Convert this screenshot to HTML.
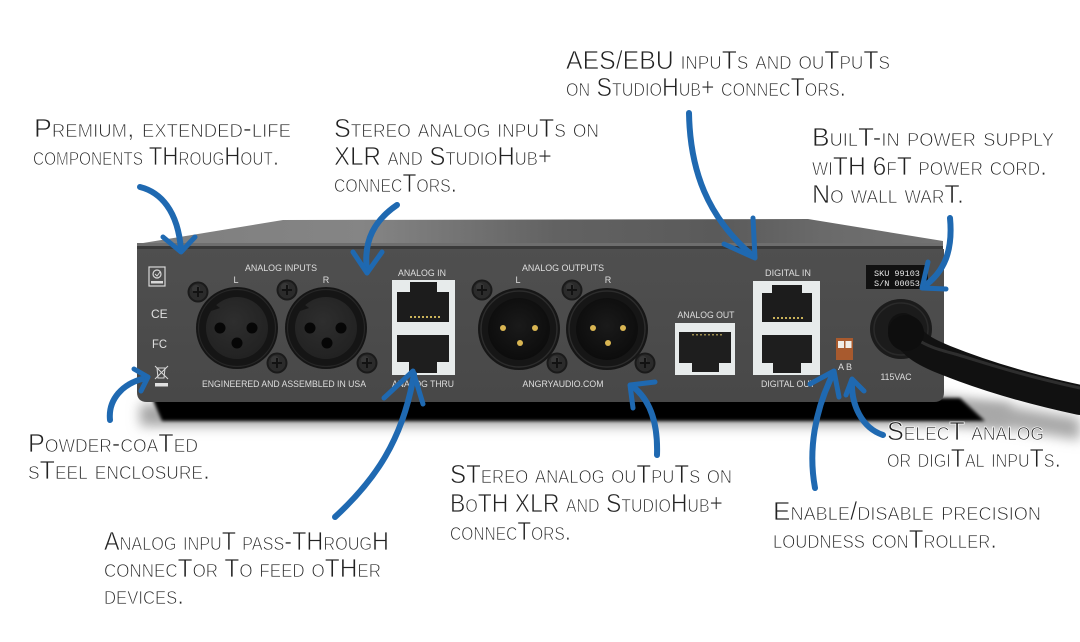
<!DOCTYPE html>
<html>
<head>
<meta charset="utf-8">
<style>
  html,body{margin:0;padding:0;background:#fff;}
  svg{display:block;}
  .note{font-family:"Liberation Sans","DejaVu Sans",sans-serif;font-size:26px;font-variant:small-caps;fill:#222;stroke:#fff;stroke-width:0.7px;paint-order:normal;}
  .lbl{font-family:"Liberation Sans","DejaVu Sans",sans-serif;font-size:9px;fill:#dedede;}
  .mono{font-family:"Liberation Mono","DejaVu Sans Mono",monospace;font-size:8.5px;fill:#e6e6e6;}
  .arr{fill:none;stroke:#1f69b1;stroke-width:6;stroke-linecap:round;stroke-linejoin:round;}
  .arrh{fill:none;stroke:#1f69b1;stroke-width:5;stroke-linecap:round;stroke-linejoin:round;}
</style>
</head>
<body>
<svg width="1080" height="642" viewBox="0 0 1080 642" xmlns="http://www.w3.org/2000/svg">
<defs>
  <linearGradient id="topg" x1="137" y1="0" x2="943" y2="0" gradientUnits="userSpaceOnUse">
    <stop offset="0" stop-color="#7e7e7e"/>
    <stop offset="0.28" stop-color="#858585"/>
    <stop offset="0.52" stop-color="#626262"/>
    <stop offset="0.72" stop-color="#5a5a5a"/>
    <stop offset="0.85" stop-color="#6a6a6a"/>
    <stop offset="1" stop-color="#727272"/>
  </linearGradient>
  <linearGradient id="panelg" x1="0" y1="247" x2="0" y2="402" gradientUnits="userSpaceOnUse">
    <stop offset="0" stop-color="#4f4f4f"/>
    <stop offset="1" stop-color="#484848"/>
  </linearGradient>
  <radialGradient id="fface" cx="0.45" cy="0.4" r="0.6">
    <stop offset="0" stop-color="#2e2e2e"/>
    <stop offset="1" stop-color="#222"/>
  </radialGradient>
  <radialGradient id="mface" cx="0.5" cy="0.45" r="0.6">
    <stop offset="0" stop-color="#1a1a1a"/>
    <stop offset="1" stop-color="#0b0b0b"/>
  </radialGradient>
  <filter id="b6" x="-20%" y="-200%" width="140%" height="500%"><feGaussianBlur stdDeviation="6"/></filter>
  <filter id="b2" x="-10%" y="-100%" width="120%" height="300%"><feGaussianBlur stdDeviation="1.6"/></filter>
  <g id="screw">
    <circle r="10.5" fill="#1a1a1a"/>
    <circle r="8.5" fill="#2b2b2b"/>
    <circle cx="-2" cy="-3" r="4" fill="#3d3d3d" opacity="0.7"/>
    <path d="M-5,0 H5 M0,-5 V5" stroke="#121212" stroke-width="2"/>
  </g>
</defs>

<rect width="1080" height="642" fill="#fff"/>

<!-- soft shadows -->
<rect x="140" y="404" width="870" height="22" fill="#a4a4a4" filter="url(#b6)"/>
<path d="M935,395 C980,400 1030,410 1080,418 L1080,440 C1030,432 980,424 935,418 Z" fill="#a8a8a8" filter="url(#b6)"/>
<!-- black base band -->
<path d="M152,398 L960,398 L985,421 L162,421 Z" fill="#060606" filter="url(#b2)"/>

<!-- top plate -->
<path d="M137,244 L283,220 L808,219 L943,241 L943,247 L137,248 Z" fill="url(#topg)"/>
<rect x="137" y="243" width="806" height="3" fill="#6e6e6e"/>
<rect x="137" y="246" width="806" height="3" fill="#3a3a3a"/>

<!-- front panel -->
<path d="M137,249 L944,249 L944,392 Q944,402 934,402 L147,402 Q137,402 137,392 Z" fill="url(#panelg)"/>

<!-- left icons -->
<rect x="149" y="267" width="16" height="19" fill="none" stroke="#d8d8d8" stroke-width="1.2"/>
<circle cx="157" cy="274" r="4" fill="none" stroke="#d8d8d8" stroke-width="1.2"/>
<path d="M155,274 l2,2 l3,-4" fill="none" stroke="#d8d8d8" stroke-width="1"/>
<rect x="151" y="281" width="12" height="2.5" fill="#d8d8d8"/>
<text x="151" y="318" font-family="Liberation Sans,sans-serif" font-size="12" fill="#e0e0e0">CE</text>
<text x="152" y="348" font-family="Liberation Sans,sans-serif" font-size="12" fill="#e0e0e0" textLength="15" lengthAdjust="spacingAndGlyphs">FC</text>
<g stroke="#d8d8d8" stroke-width="1" fill="none">
  <path d="M157,368 h8 l-1,10 h-6 z"/>
  <path d="M155,366 l13,13 M168,366 l-13,13"/>
</g>
<rect x="155" y="383" width="13" height="3.5" fill="#e0e0e0"/>

<!-- ANALOG INPUTS section -->
<text class="lbl" x="281" y="271" text-anchor="middle" textLength="72" lengthAdjust="spacingAndGlyphs">ANALOG INPUTS</text>
<text class="lbl" x="236" y="283" text-anchor="middle">L</text>
<text class="lbl" x="326" y="283" text-anchor="middle">R</text>

<g transform="translate(237,328)">
  <circle r="41" fill="#151515"/>
  <circle r="38.5" fill="none" stroke="#262626" stroke-width="1.2"/>
  <circle r="31" fill="url(#fface)"/>
  <path d="M-26,-17 l5,-6 l4,3 z" fill="#151515"/>
  <circle cx="-17" cy="0" r="5.5" fill="#060606"/>
  <circle cx="15" cy="0" r="5.5" fill="#060606"/>
  <circle cx="0" cy="15" r="5.5" fill="#060606"/>
</g>
<g transform="translate(326,328)">
  <circle r="41" fill="#151515"/>
  <circle r="38.5" fill="none" stroke="#262626" stroke-width="1.2"/>
  <circle r="31" fill="url(#fface)"/>
  <path d="M-26,-17 l5,-6 l4,3 z" fill="#151515"/>
  <circle cx="-16" cy="0" r="5.5" fill="#060606"/>
  <circle cx="15" cy="0" r="5.5" fill="#060606"/>
  <circle cx="1" cy="15" r="5.5" fill="#060606"/>
</g>
<use href="#screw" x="198" y="292"/>
<use href="#screw" x="277" y="363"/>
<use href="#screw" x="287" y="290"/>
<use href="#screw" x="367" y="363"/>
<text class="lbl" x="284" y="387" text-anchor="middle" textLength="164" lengthAdjust="spacingAndGlyphs">ENGINEERED AND ASSEMBLED IN USA</text>

<!-- ANALOG IN / THRU jacks -->
<text class="lbl" x="422" y="276" text-anchor="middle" textLength="48" lengthAdjust="spacingAndGlyphs">ANALOG IN</text>
<rect x="392" y="280" width="63" height="95" fill="#e7ebeb"/>
<path d="M397,292 H410 V282 H437 V292 H449 V322 H397 Z" fill="#1c1c1c"/>
<g fill="#c9b25a"><rect x="410" y="316" width="2" height="2"/><rect x="414" y="316" width="2" height="2"/><rect x="418" y="316" width="2" height="2"/><rect x="422" y="316" width="2" height="2"/><rect x="426" y="316" width="2" height="2"/><rect x="430" y="316" width="2" height="2"/><rect x="434" y="316" width="2" height="2"/><rect x="438" y="316" width="2" height="2"/></g>
<path d="M397,335 H449 V362 H437 V373 H409 V362 H397 Z" fill="#1e1e1e"/>
<text class="lbl" x="423" y="387" text-anchor="middle" textLength="62" lengthAdjust="spacingAndGlyphs">ANALOG THRU</text>

<!-- ANALOG OUTPUTS -->
<text class="lbl" x="563" y="271" text-anchor="middle" textLength="82" lengthAdjust="spacingAndGlyphs">ANALOG OUTPUTS</text>
<text class="lbl" x="518" y="283" text-anchor="middle">L</text>
<text class="lbl" x="608" y="283" text-anchor="middle">R</text>
<g transform="translate(519,329)">
  <circle r="41" fill="#161616"/>
  <circle r="38" fill="none" stroke="#2c2c2c" stroke-width="1.5"/>
  <circle r="31" fill="url(#mface)"/>
  <circle cx="-16" cy="-1" r="3" fill="#d9b552"/>
  <circle cx="16" cy="-1" r="3" fill="#d9b552"/>
  <circle cx="1" cy="14" r="3" fill="#d9b552"/>
</g>
<g transform="translate(607,329)">
  <circle r="41" fill="#161616"/>
  <circle r="38" fill="none" stroke="#2c2c2c" stroke-width="1.5"/>
  <circle r="31" fill="url(#mface)"/>
  <circle cx="-14" cy="-1" r="3" fill="#d9b552"/>
  <circle cx="16" cy="-1" r="3" fill="#d9b552"/>
  <circle cx="1" cy="14" r="3" fill="#d9b552"/>
</g>
<use href="#screw" x="482" y="290"/>
<use href="#screw" x="557" y="363"/>
<use href="#screw" x="572" y="290"/>
<use href="#screw" x="645" y="363"/>
<text class="lbl" x="563" y="387" text-anchor="middle" textLength="81" lengthAdjust="spacingAndGlyphs">ANGRYAUDIO.COM</text>

<!-- ANALOG OUT jack -->
<text class="lbl" x="706" y="318" text-anchor="middle" textLength="57" lengthAdjust="spacingAndGlyphs">ANALOG OUT</text>
<rect x="675" y="323" width="60" height="52" fill="#e7ebeb"/>
<path d="M679,332 H731 V363 H719 V372 H692 V363 H679 Z" fill="#1e1e1e"/>
<g fill="#9c8c4e"><rect x="692" y="334" width="2" height="1.5"/><rect x="696" y="334" width="2" height="1.5"/><rect x="700" y="334" width="2" height="1.5"/><rect x="704" y="334" width="2" height="1.5"/><rect x="708" y="334" width="2" height="1.5"/><rect x="712" y="334" width="2" height="1.5"/><rect x="716" y="334" width="2" height="1.5"/><rect x="720" y="334" width="2" height="1.5"/></g>

<!-- DIGITAL IN/OUT jacks -->
<text class="lbl" x="788" y="276" text-anchor="middle" textLength="46" lengthAdjust="spacingAndGlyphs">DIGITAL IN</text>
<rect x="753" y="281" width="67" height="94" fill="#e7ebeb"/>
<path d="M762,293 H772 V285 H802 V293 H812 V322 H762 Z" fill="#1c1c1c"/>
<g fill="#c9b25a"><rect x="773" y="317" width="2" height="2"/><rect x="777" y="317" width="2" height="2"/><rect x="781" y="317" width="2" height="2"/><rect x="785" y="317" width="2" height="2"/><rect x="789" y="317" width="2" height="2"/><rect x="793" y="317" width="2" height="2"/><rect x="797" y="317" width="2" height="2"/><rect x="801" y="317" width="2" height="2"/></g>
<path d="M762,335 H812 V363 H801 V373 H773 V363 H762 Z" fill="#1e1e1e"/>
<text class="lbl" x="788" y="387" text-anchor="middle" textLength="54" lengthAdjust="spacingAndGlyphs">DIGITAL OUT</text>

<!-- DIP switch -->
<rect x="836" y="338" width="17" height="22" fill="#a85a2e"/>
<rect x="838" y="341" width="6" height="7" fill="#f0ece6"/>
<rect x="845.5" y="341" width="6" height="7" fill="#f0ece6"/>
<text class="lbl" x="845" y="370" text-anchor="middle" font-size="8.5">A B</text>

<!-- SKU label -->
<rect x="866" y="265" width="62" height="24" fill="#111"/>
<text class="mono" x="874" y="276">SKU 99103</text>
<text class="mono" x="874" y="286">S/N 00053</text>

<!-- power grommet + cable -->
<ellipse cx="901" cy="329" rx="31" ry="30" fill="#1b1b1b"/>
<ellipse cx="901" cy="329" rx="27" ry="26" fill="none" stroke="#2a2a2a" stroke-width="1.5"/>
<path d="M903,328 C912,345 925,352 945,360 S1010,385 1080,400" fill="none" stroke="#111" stroke-width="30" stroke-linecap="round"/>
<path d="M915,338 C928,347 940,350 955,354 S1015,374 1080,388" fill="none" stroke="#3a3a3a" stroke-width="3" opacity="0.7"/>
<circle cx="906" cy="333" r="18" fill="#0e0e0e"/>
<text class="lbl" x="896" y="380" text-anchor="middle" textLength="31" lengthAdjust="spacingAndGlyphs">115VAC</text>

<!-- annotations text -->
<text class="note" x="34" y="137" textLength="257" lengthAdjust="spacingAndGlyphs">Premium, extended-life</text>
<text class="note" x="33" y="165" textLength="246" lengthAdjust="spacingAndGlyphs">components THrougHout.</text>

<text class="note" x="334" y="137" textLength="265" lengthAdjust="spacingAndGlyphs">Stereo analog inpuTs on</text>
<text class="note" x="334" y="165" textLength="218" lengthAdjust="spacingAndGlyphs">XLR and StudioHub+</text>
<text class="note" x="334" y="192" textLength="123" lengthAdjust="spacingAndGlyphs">connecTors.</text>

<text class="note" x="566" y="69" textLength="324" lengthAdjust="spacingAndGlyphs">AES/EBU inpuTs and ouTpuTs</text>
<text class="note" x="566" y="96" textLength="280" lengthAdjust="spacingAndGlyphs">on StudioHub+ connecTors.</text>

<text class="note" x="812" y="146" textLength="242" lengthAdjust="spacingAndGlyphs">BuilT-in power supply</text>
<text class="note" x="812" y="175" textLength="235" lengthAdjust="spacingAndGlyphs">wiTH 6fT power cord.</text>
<text class="note" x="812" y="203" textLength="152" lengthAdjust="spacingAndGlyphs">No wall warT.</text>

<text class="note" x="28" y="452" textLength="170" lengthAdjust="spacingAndGlyphs">Powder-coaTed</text>
<text class="note" x="28" y="479" textLength="182" lengthAdjust="spacingAndGlyphs">sTeel enclosure.</text>

<text class="note" x="104" y="550" textLength="285" lengthAdjust="spacingAndGlyphs">Analog inpuT pass-THrougH</text>
<text class="note" x="104" y="577" textLength="277" lengthAdjust="spacingAndGlyphs">connecTor To feed oTHer</text>
<text class="note" x="104" y="604" textLength="80" lengthAdjust="spacingAndGlyphs">devices.</text>

<text class="note" x="450" y="483" textLength="282" lengthAdjust="spacingAndGlyphs">STereo analog ouTpuTs on</text>
<text class="note" x="450" y="512" textLength="273" lengthAdjust="spacingAndGlyphs">BoTH XLR and StudioHub+</text>
<text class="note" x="450" y="540" textLength="121" lengthAdjust="spacingAndGlyphs">connecTors.</text>

<text class="note" x="773" y="520" textLength="268" lengthAdjust="spacingAndGlyphs">Enable/disable precision</text>
<text class="note" x="773" y="548" textLength="224" lengthAdjust="spacingAndGlyphs">loudness conTroller.</text>

<text class="note" x="887" y="440" textLength="157" lengthAdjust="spacingAndGlyphs">SelecT analog</text>
<text class="note" x="887" y="467" textLength="174" lengthAdjust="spacingAndGlyphs">or digiTal inpuTs.</text>

<!-- arrows -->
<path class="arr" d="M140,187 C160,192 178,210 181,250"/>
<path class="arrh" d="M163,237 L181,252 L195,237"/>

<path class="arr" d="M397,205 C375,220 363,240 367,271"/>
<path class="arrh" d="M353,252 L367,273 L382,252"/>

<path class="arr" d="M689,113 C690,170 707,217 753,256"/>
<path class="arrh" d="M724,244 L755,258 L753,218"/>

<path class="arr" d="M950,218 C953,250 945,272 923,287"/>
<path class="arrh" d="M928,262 L922,288 L946,289"/>

<path class="arr" d="M110,420 C108,400 122,383 146,378"/>
<path class="arrh" d="M134,369 L148,377 L141,391"/>

<path class="arr" d="M335,517 C375,480 403,440 414,374"/>
<path class="arrh" d="M384,398 L413,371 L423,404"/>

<path class="arr" d="M657,455 C658,425 651,400 632,386"/>
<path class="arrh" d="M655,382 L630,385 L633,408"/>

<path class="arr" d="M815,488 C808,450 815,410 833,374"/>
<path class="arrh" d="M810,384 L834,371 L839,397"/>

<path class="arr" d="M883,435 C862,428 851,405 852,381"/>
<path class="arrh" d="M846,395 L852,379 L864,391"/>
</svg>
</body>
</html>
